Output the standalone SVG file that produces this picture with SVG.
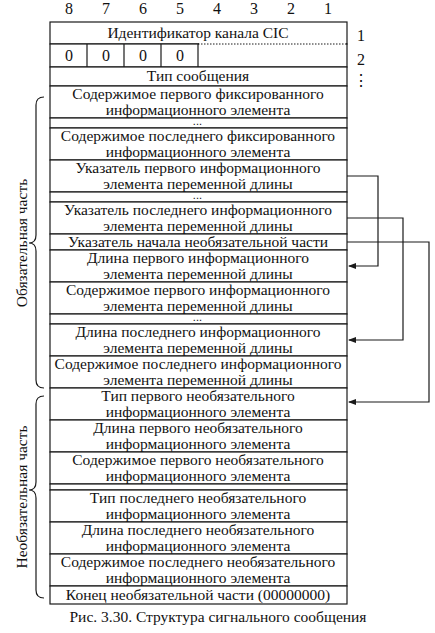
<svg xmlns="http://www.w3.org/2000/svg" width="435" height="633" viewBox="0 0 435 633">
<style>
text{font-family:"Liberation Serif","DejaVu Serif",serif;font-size:14.5px;fill:#111;text-anchor:middle}
.row text{transform:scaleX(1.07);transform-box:fill-box;transform-origin:center}
.num{font-size:16px}
.el{font-size:8px;letter-spacing:1.2px;font-weight:bold}
.cell{fill:#fff;stroke:#1a1a1a;stroke-width:1.2}
.ln{fill:none;stroke:#1a1a1a;stroke-width:1.2}
.dot{fill:none;stroke:#1a1a1a;stroke-width:1;stroke-dasharray:1.5 1.5}
</style>
<defs>
<marker id="ah" markerWidth="8" markerHeight="6" refX="7" refY="3" orient="auto" markerUnits="userSpaceOnUse">
<path d="M0,0 L8,3 L0,6 Z" fill="#1a1a1a"/>
</marker>
</defs>
<rect width="435" height="633" fill="#fff"/>
<g id="bits">
<text class="num" x="69" y="14">8</text><text class="num" x="106" y="14">7</text><text class="num" x="143" y="14">6</text><text class="num" x="180" y="14">5</text>
<text class="num" x="217" y="14">4</text><text class="num" x="254" y="14">3</text><text class="num" x="291" y="14">2</text><text class="num" x="328" y="14">1</text>
</g>
<g id="octets">
<text class="num" x="361" y="41">1</text><text class="num" x="361" y="65">2</text><text class="num" x="361" y="86">⋮</text>
</g>
<g id="cic" class="row"><rect class="cell" x="50" y="22" width="297" height="22"/><text x="198" y="38">Идентификатор канала CIC</text></g>
<g id="zeros">
<rect class="cell" x="50" y="44" width="297" height="23"/>
<rect x="199" y="43" width="147" height="2" fill="#fff"/>
<line class="dot" x1="198" y1="44" x2="347" y2="44"/>
<line class="ln" x1="87" y1="44" x2="87" y2="67"/><line class="ln" x1="124" y1="44" x2="124" y2="67"/>
<line class="ln" x1="161" y1="44" x2="161" y2="67"/><line class="ln" x1="198" y1="44" x2="198" y2="67"/>
<text class="num" x="69" y="61">0</text><text class="num" x="106" y="61">0</text><text class="num" x="143" y="61">0</text><text class="num" x="180" y="61">0</text>
</g>
<g id="msgtype" class="row"><rect class="cell" x="50" y="67" width="297" height="19"/><text x="198" y="81">Тип сообщения</text></g>
<g id="fix1" class="row"><rect class="cell" x="50" y="86" width="297" height="32"/><text x="198" y="99">Содержимое первого фиксированного</text><text x="198" y="115">информационного элемента</text></g>
<g id="dots1"><rect class="cell" x="50" y="118" width="297" height="10"/><text class="el" x="198" y="125">...</text></g>
<g id="fixn" class="row"><rect class="cell" x="50" y="128" width="297" height="32"/><text x="198" y="141">Содержимое последнего фиксированного</text><text x="198" y="157">информационного элемента</text></g>
<g id="ptr1" class="row"><rect class="cell" x="50" y="160" width="297" height="32"/><text x="198" y="173">Указатель первого информационного</text><text x="198" y="189">элемента переменной длины</text></g>
<g id="dots2"><rect class="cell" x="50" y="192" width="297" height="10"/><text class="el" x="198" y="199">...</text></g>
<g id="ptrn" class="row"><rect class="cell" x="50" y="202" width="297" height="32"/><text x="198" y="215">Указатель последнего информационного</text><text x="198" y="231">элемента переменной длины</text></g>
<g id="ptropt" class="row"><rect class="cell" x="50" y="234" width="297" height="16"/><text x="198" y="247">Указатель начала необязательной части</text></g>
<g id="len1" class="row"><rect class="cell" x="50" y="250" width="297" height="32"/><text x="198" y="263">Длина первого информационного</text><text x="198" y="279">элемента переменной длины</text></g>
<g id="val1" class="row"><rect class="cell" x="50" y="282" width="297" height="32"/><text x="198" y="295">Содержимое первого информационного</text><text x="198" y="311">элемента переменной длины</text></g>
<g id="dots3"><rect class="cell" x="50" y="314" width="297" height="10"/><text class="el" x="198" y="321">...</text></g>
<g id="lenn" class="row"><rect class="cell" x="50" y="324" width="297" height="32"/><text x="198" y="337">Длина последнего информационного</text><text x="198" y="353">элемента переменной длины</text></g>
<g id="valn" class="row"><rect class="cell" x="50" y="356" width="297" height="32"/><text x="198" y="369">Содержимое последнего информационного</text><text x="198" y="385">элемента переменной длины</text></g>
<g id="otype1" class="row"><rect class="cell" x="50" y="388" width="297" height="32"/><text x="198" y="401">Тип первого необязательного</text><text x="198" y="417">информационного элемента</text></g>
<g id="olen1" class="row"><rect class="cell" x="50" y="420" width="297" height="32"/><text x="198" y="433">Длина первого необязательного</text><text x="198" y="449">информационного элемента</text></g>
<g id="oval1" class="row"><rect class="cell" x="50" y="452" width="297" height="32"/><text x="198" y="465">Содержимое первого необязательного</text><text x="198" y="481">информационного элемента</text></g>
<g id="dots4"><rect class="cell" x="50" y="484" width="297" height="6"/></g>
<g id="otypen" class="row"><rect class="cell" x="50" y="490" width="297" height="32"/><text x="198" y="503">Тип последнего необязательного</text><text x="198" y="519">информационного элемента</text></g>
<g id="olenn" class="row"><rect class="cell" x="50" y="522" width="297" height="32"/><text x="198" y="535">Длина последнего необязательного</text><text x="198" y="551">информационного элемента</text></g>
<g id="ovaln" class="row"><rect class="cell" x="50" y="554" width="297" height="32"/><text x="198" y="567">Содержимое последнего необязательного</text><text x="198" y="583">информационного элемента</text></g>
<g id="end" class="row"><rect class="cell" x="50" y="586" width="297" height="18"/><text x="198" y="600">Конец необязательной части (00000000)</text></g>
<g id="connectors">
<polyline class="ln" points="347,176 378,176 378,266 349,266" marker-end="url(#ah)"/>
<polyline class="ln" points="347,218 403,218 403,340 349,340" marker-end="url(#ah)"/>
<polyline class="ln" points="347,242 429,242 429,402 349,402" marker-end="url(#ah)"/>
</g>
<g id="mandatory">
<path class="ln" d="M44,97 Q36,97 36,105 L36,235 Q36,243 29,243 Q36,243 36,251 L36,380 Q36,388 44,388"/>
<text style="font-size:15.5px" transform="translate(27,243) rotate(-90)">Обязательная часть</text>
</g>
<g id="optional">
<path class="ln" d="M44,396 Q36,396 36,404 L36,482 Q36,490 29,490 Q36,490 36,498 L36,590 Q36,598 44,598"/>
<text style="font-size:15.5px" transform="translate(27,497) rotate(-90)">Необязательная часть</text>
</g>
<g class="row"><text x="218" y="622">Рис. 3.30. Структура сигнального сообщения</text></g>
</svg>
